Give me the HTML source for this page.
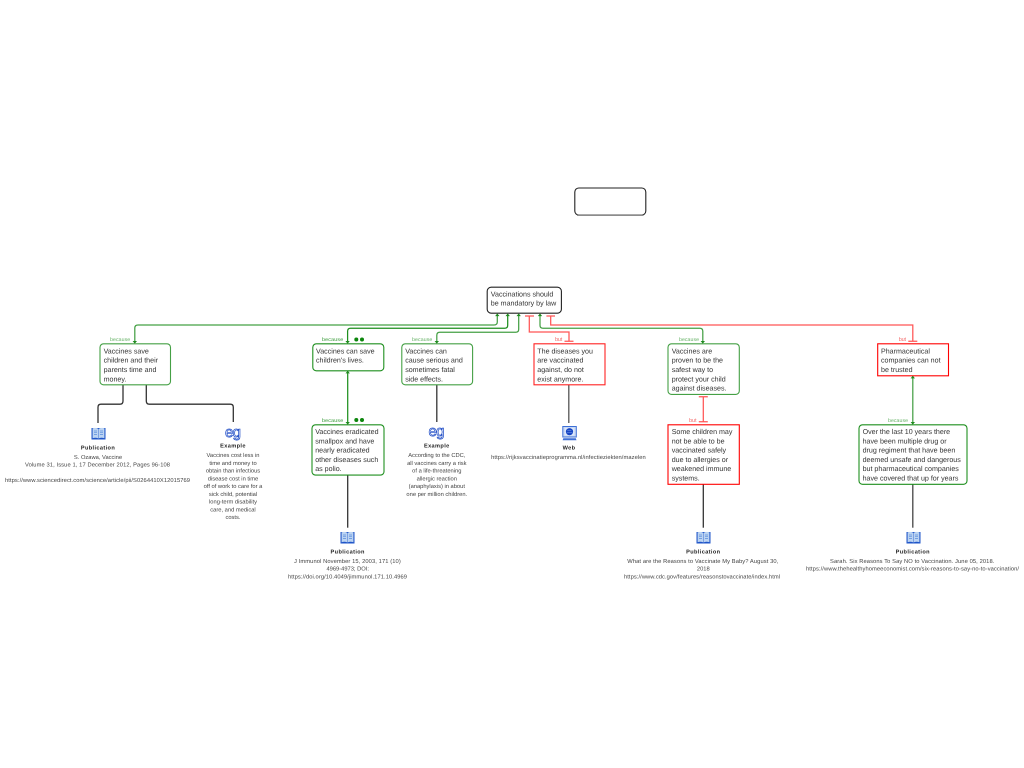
<!DOCTYPE html>
<html>
<head>
<meta charset="utf-8">
<title>Vaccinations should be mandatory by law</title>
<style>
html,body{margin:0;padding:0;background:#fff;width:1024px;height:768px;overflow:hidden}
svg{display:block;filter:blur(.3px)}
text{font-family:"Liberation Sans",Arial,sans-serif;text-rendering:geometricPrecision}
.n{font-size:7.1px;fill:#333}
.s{font-size:5.75px;fill:#444;text-anchor:middle}
.h{font-size:5.6px;font-weight:bold;fill:#222;text-anchor:middle;letter-spacing:.38px}
.bc{font-size:5.2px;fill:#66b266}
.bd{font-size:5.2px;fill:#2f962f;letter-spacing:.25px}
.bt{font-size:5.6px;fill:#f47070}
.g{fill:none;stroke:#45a045;stroke-width:1.25}
.gd{fill:none;stroke:#1f8f1f;stroke-width:1.25}
.r{fill:none;stroke:#f55;stroke-width:1.25}
.k{fill:none;stroke:#333;stroke-width:1.3}
.a{fill:#1f8a1f}
.box{fill:#fff}
</style>
</head>
<body>
<svg width="1024" height="768" viewBox="0 0 1024 768" xmlns="http://www.w3.org/2000/svg">
<defs>
<g id="book">
<rect x="0.5" y="1" width="14" height="11.5" fill="#1f55c8"/>
<path d="M1.6 1.4C3.5 .6 6 .8 7.3 2V11.5C6 10.6 3.5 10.5 1.6 11.2Z" fill="#bcd4f2"/>
<path d="M13.4 1.4C11.5 .6 9 .8 7.7 2V11.5C9 10.6 11.5 10.5 13.4 11.2Z" fill="#bcd4f2"/>
<path d="M3 4H6M3 5.7H6M3 7.4H6M9 4H12M9 5.7H12M9 7.4H12" stroke="#5b8ddc" stroke-width=".7"/>
</g>
<g id="web">
<rect x="0.5" y="0.5" width="13.5" height="10.5" fill="#c8d8f4" stroke="#3d6fd6" stroke-width="1"/>
<rect x="2.5" y="2" width="9.5" height="7.5" fill="#dde8fa"/>
<circle cx="7.2" cy="5.7" r="3.6" fill="#1746c4"/>
<path d="M5 4.5H9M4.5 6.5H10" stroke="#7fa0ea" stroke-width=".6"/>
<path d="M1 12.2H13.5L14.2 14.3H.3Z" fill="#3d6fd6"/>
</g>
</defs>

<!-- top empty box -->
<rect x="574.8" y="188" width="71" height="27" rx="4" fill="#fff" stroke="#222" stroke-width="1.1"/>
<path d="M577 215.2H643.5" stroke="#666" stroke-width="1.2" fill="none"/>

<!-- connectors root to children -->
<path class="g" d="M497.3 314V322Q497.3 325 494 325H138Q134.8 325 134.8 328V343"/>
<path class="gd" d="M507.7 314V325.3Q507.7 328.3 504.7 328.3H350.5Q347.6 328.3 347.6 331.3V343"/>
<path class="g" d="M518.7 314V329.3Q518.7 332.3 515.7 332.3H439.8Q436.8 332.3 436.8 335.3V343"/>
<path class="r" d="M529.3 316V332H569V341"/>
<path class="g" d="M540 314V325.3Q540 328.3 543 328.3H699.8Q702.8 328.3 702.8 331.3V343"/>
<path class="r" d="M550.7 316V325H912.8V341"/>
<path class="r" d="M525 316H534M546.4 316H555M564.5 341.3H573.5M908.3 341.3H917.3"/>
<path class="gd" d="M347.7 371V424"/>
<path class="g" d="M912.8 376V424"/>
<path class="r" d="M703.3 396.7V421.8M698.8 396.7H707.8M698.8 421.8H707.8"/>

<!-- black connectors -->
<path class="k" d="M123 385V401Q123 404.2 120 404.2H101Q98 404.2 98 407.2V423"/>
<path class="k" d="M146.3 385V401Q146.3 404.2 149.3 404.2H230.3Q233.3 404.2 233.3 407.2V422"/>
<path class="k" d="M436.8 385V422"/>
<path d="M568.8 385V423" fill="none" stroke="#555" stroke-width="1.3"/>
<path class="k" d="M347.7 475V527.7"/>
<path class="k" d="M703.3 484V527.7"/>
<path d="M912.8 484V527.7" fill="none" stroke="#444" stroke-width="1.3"/>

<!-- nodes -->
<rect class="box" x="487.2" y="287.2" width="74.2" height="26" rx="4" stroke="#222" stroke-width="1.1"/>
<rect class="box" x="100" y="343.8" width="70.5" height="41" rx="3.5" stroke="#45a045" stroke-width="1.1"/>
<rect class="box" x="312.8" y="343.8" width="71" height="27" rx="3.5" stroke="#1f8f1f" stroke-width="1.1"/>
<rect class="box" x="401.8" y="343.8" width="70.8" height="41" rx="3.5" stroke="#45a045" stroke-width="1.1"/>
<rect class="box" x="534" y="343.8" width="71" height="41" stroke="#f22" stroke-width="1.1"/>
<rect class="box" x="668" y="343.8" width="71.3" height="50.6" rx="3.5" stroke="#45a045" stroke-width="1.1"/>
<rect class="box" x="877.7" y="343.8" width="70.8" height="32" stroke="#f00" stroke-width="1.1"/>
<rect class="box" x="312" y="424.8" width="72" height="50.3" rx="3.5" stroke="#1f8f1f" stroke-width="1.1"/>
<rect class="box" x="668" y="424.8" width="71.3" height="59.5" stroke="#f00" stroke-width="1.1"/>
<rect class="box" x="859" y="424.8" width="108" height="59.5" rx="3.5" stroke="#1f8f1f" stroke-width="1.1"/>

<!-- arrowheads -->
<path class="a" d="M497.3 313.5l-2.2 2.6h4.4zM507.7 313.5l-2.2 2.6h4.4zM518.7 313.5l-2.2 2.6h4.4zM540 313.5l-2.2 2.6h4.4z"/>
<path class="a" d="M134.8 343.6l-2.2-2.6h4.4zM347.6 343.6l-2.2-2.6h4.4zM436.8 343.6l-2.2-2.6h4.4zM702.8 343.6l-2.2-2.6h4.4z"/>
<path class="a" d="M347.7 424.6l-2.2-2.6h4.4zM912.8 424.6l-2.2-2.6h4.4zM347.7 370.8l-2.2 2.6h4.4zM912.8 375.8l-2.2 2.6h4.4z"/>

<!-- relation labels -->
<text class="bc" x="110" y="341.1" textLength="20.2">because</text>
<text class="bd" x="322" y="341.1" textLength="21.4">because</text>
<circle cx="356.3" cy="339.5" r="2" fill="#0c860c"/><circle cx="362" cy="339.5" r="2" fill="#0c860c"/>
<text class="bc" x="412" y="341.1" textLength="20.3">because</text>
<text class="bt" x="555" y="341.2" textLength="7.3">but</text>
<text class="bc" x="679" y="341.1" textLength="20">because</text>
<text class="bt" x="898.7" y="341.2" textLength="7.3">but</text>
<text class="bd" x="322" y="421.8" textLength="21.4">because</text>
<circle cx="356.3" cy="420" r="2" fill="#0c860c"/><circle cx="362" cy="420" r="2" fill="#0c860c"/>
<text class="bt" x="689" y="421.9" textLength="7.6">but</text>
<text class="bc" x="888" y="421.8" textLength="20">because</text>

<!-- node text -->
<g class="n">
<text class="n" x="490.8" y="296.4">Vaccinations should</text>
<text class="n" x="490.8" y="305.7">be mandatory by law</text>

<text class="n" x="103.6" y="353.4">Vaccines save</text>
<text class="n" x="103.6" y="362.7">children and their</text>
<text class="n" x="103.6" y="372">parents time and</text>
<text class="n" x="103.6" y="381.3">money.</text>

<text class="n" x="316" y="353.4">Vaccines can save</text>
<text class="n" x="316" y="362.7">children's lives.</text>

<text class="n" x="405.2" y="353.4">Vaccines can</text>
<text class="n" x="405.2" y="362.7">cause serious and</text>
<text class="n" x="405.2" y="372">sometimes fatal</text>
<text class="n" x="405.2" y="381.3">side effects.</text>

<text class="n" x="537.3" y="353.4">The diseases you</text>
<text class="n" x="537.3" y="362.7">are vaccinated</text>
<text class="n" x="537.3" y="372">against, do not</text>
<text class="n" x="537.3" y="381.3">exist anymore.</text>

<text class="n" x="671.7" y="353.4">Vaccines are</text>
<text class="n" x="671.7" y="362.7">proven to be the</text>
<text class="n" x="671.7" y="372">safest way to</text>
<text class="n" x="671.7" y="381.3">protect your child</text>
<text class="n" x="671.7" y="390.6">against diseases.</text>

<text class="n" x="881" y="353.4">Pharmaceutical</text>
<text class="n" x="881" y="362.7">companies can not</text>
<text class="n" x="881" y="372">be trusted</text>

<text class="n" x="315.2" y="434">Vaccines eradicated</text>
<text class="n" x="315.2" y="443.3">smallpox and have</text>
<text class="n" x="315.2" y="452.6">nearly eradicated</text>
<text class="n" x="315.2" y="461.9">other diseases such</text>
<text class="n" x="315.2" y="471.2">as polio.</text>

<text class="n" x="671.7" y="434">Some children may</text>
<text class="n" x="671.7" y="443.3">not be able to be</text>
<text class="n" x="671.7" y="452.6">vaccinated safely</text>
<text class="n" x="671.7" y="461.9">due to allergies or</text>
<text class="n" x="671.7" y="471.2">weakened immune</text>
<text class="n" x="671.7" y="480.5">systems.</text>

<text class="n" x="862.6" y="434">Over the last 10 years there</text>
<text class="n" x="862.6" y="443.3">have been multiple drug or</text>
<text class="n" x="862.6" y="452.6">drug regiment that have been</text>
<text class="n" x="862.6" y="461.9">deemed unsafe and dangerous</text>
<text class="n" x="862.6" y="471.2">but pharmaceutical companies</text>
<text class="n" x="862.6" y="480.5">have covered that up for years</text>
</g>

<!-- icons -->
<use href="#book" x="91" y="427"/>
<use href="#book" x="340" y="531"/>
<use href="#book" x="696" y="531"/>
<use href="#book" x="906" y="531"/>
<use href="#web" x="562.3" y="426"/>
<text x="233" y="437" font-size="15" text-anchor="middle" fill="#fff" stroke="#1746c4" stroke-width=".7" textLength="16">eg</text>
<text x="436.5" y="436" font-size="15" text-anchor="middle" fill="#fff" stroke="#1746c4" stroke-width=".7" textLength="16">eg</text>

<!-- notes: publication 1 -->
<text class="h" x="98" y="449.3">Publication</text>
<text class="s" x="98" y="458.8">S. Ozawa, Vaccine</text>
<text class="s" x="97.5" y="466.4" textLength="145">Volume 31, Issue 1, 17 December 2012, Pages 96-108</text>
<text class="s" x="97.5" y="481.8" textLength="185">https://www.sciencedirect.com/science/article/pii/S0264410X12015769</text>

<!-- example 1 -->
<text class="h" x="233" y="447.7">Example</text>
<text class="s" x="233" y="457.1">Vaccines cost less in</text>
<text class="s" x="233" y="464.9">time and money to</text>
<text class="s" x="233" y="472.6">obtain than infectious</text>
<text class="s" x="233" y="480.4">disease cost in time</text>
<text class="s" x="233" y="488.1">off of work to care for a</text>
<text class="s" x="233" y="495.9">sick child, potential</text>
<text class="s" x="233" y="503.7">long-term disability</text>
<text class="s" x="233" y="511.4">care, and medical</text>
<text class="s" x="233" y="519.2">costs.</text>

<!-- example 2 -->
<text class="h" x="436.8" y="447.7">Example</text>
<text class="s" x="436.8" y="457.1">According to the CDC,</text>
<text class="s" x="436.8" y="464.9">all vaccines carry a risk</text>
<text class="s" x="436.8" y="472.6">of a life-threatening</text>
<text class="s" x="436.8" y="480.4">allergic reaction</text>
<text class="s" x="436.8" y="488.1">(anaphylaxis) in about</text>
<text class="s" x="436.8" y="495.9">one per million children.</text>

<!-- web -->
<text class="h" x="569" y="449.3">Web</text>
<text class="s" x="568.4" y="459" textLength="154.6">https://rijksvaccinatieprogramma.nl/infectieziekten/mazelen</text>

<!-- publication 2 -->
<text class="h" x="347.7" y="553.7">Publication</text>
<text class="s" x="347.4" y="563" textLength="106.7">J Immunol November 15, 2003, 171 (10)</text>
<text class="s" x="347.7" y="570.7">4969-4973; DOI:</text>
<text class="s" x="347.5" y="578.4" textLength="119">https://doi.org/10.4049/jimmunol.171.10.4969</text>

<!-- publication 3 -->
<text class="h" x="703.3" y="553.7">Publication</text>
<text class="s" x="702.8" y="562.8" textLength="151">What are the Reasons to Vaccinate My Baby? August 30,</text>
<text class="s" x="703.3" y="570.6">2018</text>
<text class="s" x="702" y="578.4" textLength="156">https://www.cdc.gov/features/reasonstovaccinate/index.html</text>

<!-- publication 4 -->
<text class="h" x="912.8" y="553.7">Publication</text>
<text class="s" x="912.2" y="562.8" textLength="164.3">Sarah. Six Reasons To Say NO to Vaccination. June 05, 2018.</text>
<text class="s" x="912.5" y="570.6" textLength="213">https://www.thehealthyhomeeconomist.com/six-reasons-to-say-no-to-vaccination/</text>
</svg>
</body>
</html>
